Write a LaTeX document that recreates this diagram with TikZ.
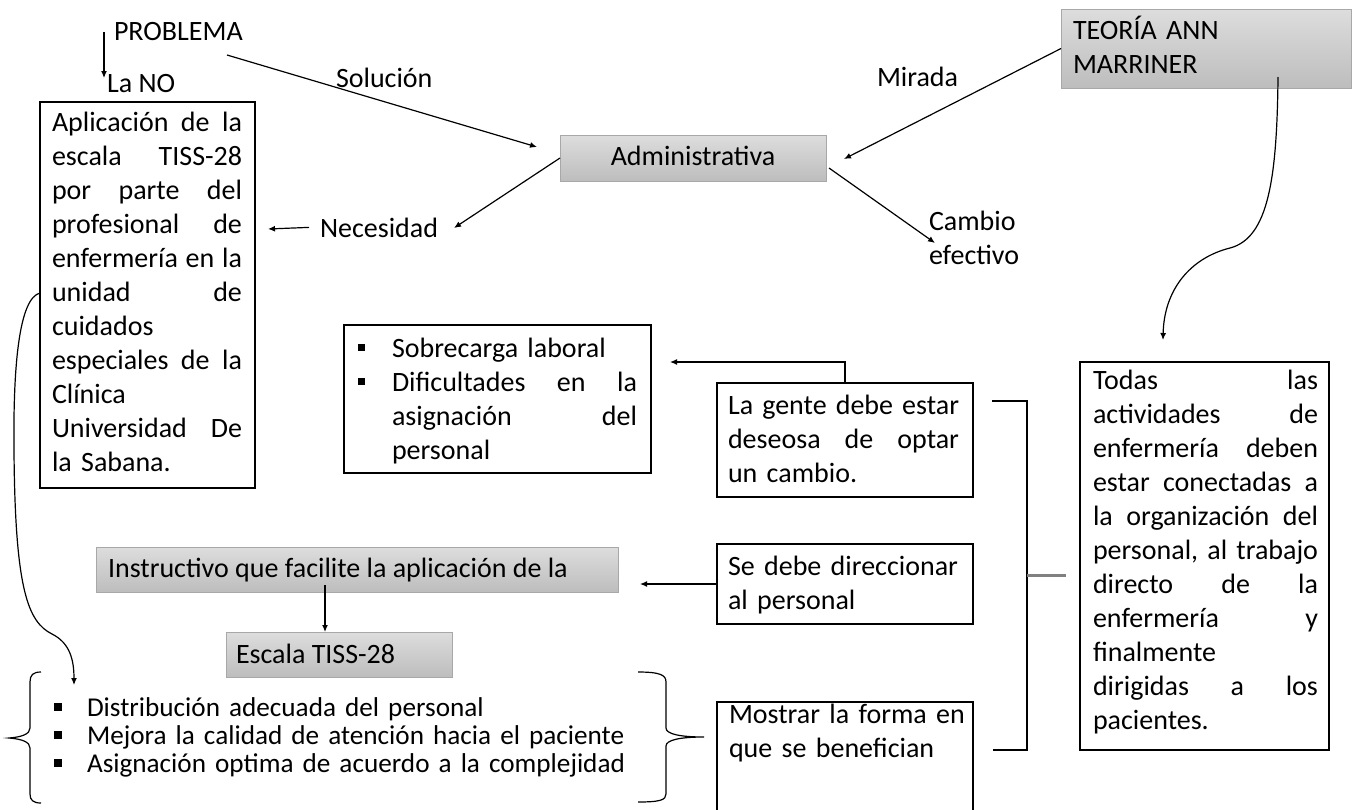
\documentclass[tikz,border=0pt]{standalone}
\usepackage{fontspec}
\setmainfont{Carlito}
\usetikzlibrary{arrows.meta}
\definecolor{gtop}{HTML}{DDDDDD}
\definecolor{gbot}{HTML}{BDBDBD}
\definecolor{gline}{HTML}{A8A8A8}
\definecolor{midgray}{HTML}{808080}
\newcommand{\bulA}{\leavevmode\llap{\rule[6pt]{7pt}{7pt}\hspace{27pt}}}
\newcommand{\bulB}{\leavevmode\llap{\rule[5pt]{8pt}{8pt}\hspace{25pt}}}
\newcommand{\nl}{\hfil\break}
\begin{document}
\begin{tikzpicture}[x=1pt,y=-1pt,
  font=\fontsize{28}{34}\selectfont,
  bx/.style={draw=black,line width=1.4pt,inner sep=0pt,outer sep=0pt,anchor=north west},
  gbx/.style={draw=gline,line width=1pt,top color=gtop,bottom color=gbot,inner sep=0pt,outer sep=0pt,anchor=north west},
  txt/.style={inner sep=0pt,outer sep=0pt,anchor=base west},
  para/.style={txt,execute at begin node={\hyphenpenalty=10000\exhyphenpenalty=10000\parindent=0pt}},
  arr/.style={line width=1.2pt,-{Latex[length=7pt,width=6pt]}},
  ln/.style={line width=1.2pt},
]
\useasboundingbox (0,0) rectangle (1359,809);
\clip (0,0) rectangle (1359,809);

% ---------- boxes ----------
\node[bx,minimum width=215pt,minimum height=386pt] (izq) at (40,102) {};
\node[bx,minimum width=307pt,minimum height=148pt] (sob) at (344,325) {};
\node[bx,minimum width=256pt,minimum height=114pt] (gente) at (717,383) {};
\node[bx,minimum width=256pt,minimum height=80pt] (dir) at (717,544) {};
\node[bx,minimum width=256pt,minimum height=130pt] (most) at (717,702) {};
\node[bx,minimum width=249pt,minimum height=388pt] (todas) at (1080,362) {};
\node[gbx,minimum width=266pt,minimum height=46pt] (adm) at (560,135) {};
\node[gbx,minimum width=290pt,minimum height=79pt] (teo) at (1061,9) {};
\node[gbx,minimum width=522pt,minimum height=45pt] (inst) at (96,547) {};
\node[gbx,minimum width=226pt,minimum height=45pt] (esc) at (226,632) {};

% ---------- texts ----------
\node[txt] (prob) at (114,40) {PROBLEMA};
\node[txt] (lano) at (107,92) {La NO};
\node[txt] (sol) at (336,87) {Solución};
\node[txt] (mir) at (877,86) {Mirada};
\node[txt] (nec) at (320,237) {Necesidad};
\node[para,text width=110pt] (camb) at (929,230) {Cambio\nl efectivo};
\node[txt,anchor=base] (admt) at (693,165) {Administrativa};
\node[para,text width=270pt] (teot) at (1073,39) {\mbox{TEORÍA ANN}\nl MARRINER};
\node[txt] (instt) at (108,577) {Instructivo que facilite la aplicación de la};
\node[txt] (esct) at (236,663) {Escala TISS-28};

\node[para,text width=190pt] (izqt) at (52,131) {%
Aplicación\hfill de\hfill la\nl
escala\hfill TISS-28\nl
por\hfill parte\hfill del\nl
profesional\hfill de\nl
enfermería\hfill en\hfill la\nl
unidad\hfill de\nl
cuidados\nl
especiales\hfill de\hfill la\nl
Clínica\nl
Universidad\hfill De\nl
\mbox{la Sabana.}};

\node[para,text width=245pt] (sobt) at (392,357) {%
\bulA\mbox{Sobrecarga laboral}\nl
\bulA Dificultades\hfill en\hfill la\nl
asignación\hfill del\nl
personal};

\node[para,text width=231pt] (gentet) at (728,414) {%
La\hfill gente\hfill debe\hfill estar\nl
deseosa\hfill de\hfill optar\nl
\mbox{un cambio.}};

\node[para,text width=240pt] (dirt) at (728,575) {\mbox{Se debe direccionar}\nl \mbox{al personal}};
\node[para,text width=240pt] (mostt) at (729,723) {\mbox{Mostrar la forma en}\nl \mbox{que se benefician}};

\node[para,text width=225pt] (todast) at (1093,389) {%
Todas\hfill las\nl
actividades\hfill de\nl
enfermería\hfill deben\nl
estar\hfill conectadas\hfill a\nl
la\hfill organización\hfill del\nl
personal,\hfill al\hfill trabajo\nl
directo\hfill de\hfill la\nl
enfermería\hfill y\nl
finalmente\nl
dirigidas\hfill a\hfill los\nl
pacientes.};

\node[para,text width=560pt,font=\fontsize{27.2}{28}\selectfont] (lista) at (87,716) {%
\bulB\mbox{Distribución adecuada del personal}\nl
\bulB\mbox{Mejora la calidad de atención hacia el paciente}\nl
\bulB\mbox{Asignación optima de acuerdo a la complejidad}};

% ---------- connector end points ----------
\coordinate (pa) at (104,32);
\coordinate (pb) at (104,78);
\coordinate (sa) at (227,55);
\coordinate (sb) at (537,147);
\coordinate (mb) at (844,159);
\coordinate (nb) at (454,228);
\coordinate (nz) at (268,229);
\coordinate (ca) at (829,168);
\coordinate (cb) at (935,243);
\coordinate (gt) at (670,362);
\coordinate (dt) at (640,584);
\coordinate (ia) at (325,585);
\coordinate (c1s) at (40,293);
\coordinate (c1e) at (74,685);
\coordinate (c2s) at (1278,77);
\coordinate (c2e) at (1163,340);
\coordinate (b1) at (992,401);
\coordinate (b2) at (993,750);
\coordinate (bm) at (1027,575);
\coordinate (bg) at (1066,575);

% ---------- connectors ----------
\draw[arr] (pa) -- (pb);
\draw[arr] (sa) -- (sb);
\draw[arr] (teo.west) -- (mb);
\draw[arr] (adm.west) -- (nb);
\draw[arr] ([xshift=-11pt]nec.west) -- (nz);
\draw[arr] (ca) -- (cb);
\draw[arr] (gente.north) |- (gt);
\draw[arr] (dir.west) -- (dt);
\draw[arr] (ia) -- (ia |- esc.north);
\draw[arr] (c1s) .. controls (20,298) and (13,360) .. (14,450)
  .. controls (15,590) and (28,622) .. (52,634)
  .. controls (70,643) and (74,660) .. (c1e);
\draw[arr] (c2s) .. controls (1277,180) and (1268,238) .. (1230,248)
  .. controls (1190,258) and (1164,290) .. (c2e);

% right bracket
\draw[ln] (b1) -- (b1 -| bm) -- (b2 -| bm) -- (b2);
\draw[midgray,line width=3pt] (bm) -- (bg);

% braces
\draw[ln] (41,672) .. controls (33,672) and (30,675) .. (30,682) -- (30,728)
  .. controls (30,734) and (22,737) .. (9,738)
  .. controls (22,739) and (30,742) .. (30,748) -- (30,794)
  .. controls (30,800) and (33,803) .. (41,803);
\draw[ln] (638,672) .. controls (660,672) and (666,675) .. (666,682) -- (666,728)
  .. controls (666,734) and (680,737) .. (704,737)
  .. controls (680,737) and (666,740) .. (666,746) -- (666,794)
  .. controls (666,800) and (660,802) .. (638,802);
\end{tikzpicture}
\end{document}
